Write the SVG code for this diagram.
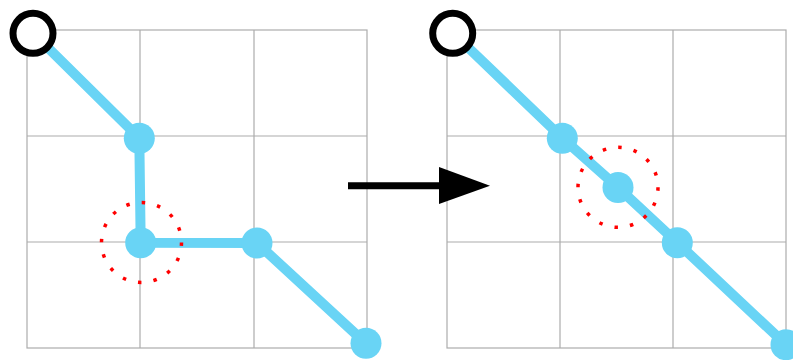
<svg xmlns="http://www.w3.org/2000/svg" width="793" height="360" viewBox="0 0 793 360">
<style>
.grid{fill:none;stroke:#acacac;stroke-width:1.2}
.path{fill:none;stroke:#69d4f5;stroke-width:10;stroke-linejoin:round}
.node{fill:#69d4f5}
.start{fill:#fff;stroke:#000;stroke-width:7}
.focus{fill:none;stroke:#f00;stroke-width:3.5;stroke-dasharray:3.5 12.2}
</style>
<rect width="793" height="360" fill="#fff"/>
<g id="grid-left" class="grid">
<rect x="27" y="30" width="340" height="318"/>
<line x1="140" y1="30" x2="140" y2="348"/>
<line x1="254" y1="30" x2="254" y2="348"/>
<line x1="27" y1="136" x2="367" y2="136"/>
<line x1="27" y1="242" x2="367" y2="242"/>
</g>
<g id="grid-right" class="grid">
<rect x="447" y="30" width="339" height="318"/>
<line x1="560" y1="30" x2="560" y2="348"/>
<line x1="673" y1="30" x2="673" y2="348"/>
<line x1="447" y1="136" x2="786" y2="136"/>
<line x1="447" y1="242" x2="786" y2="242"/>
</g>
<g id="connectors">
<polyline class="path" points="33,33 139.3,138 140.7,242.7 257,243 366,343.5"/>
<polyline class="path" points="453,33 562.3,138 618,187.5 677.3,242.7 786,344.7"/>
<line x1="348" y1="185.7" x2="442" y2="185.7" stroke="#000" stroke-width="7"/>
<polygon points="439,167 490,185.7 439,204" fill="#000"/>
</g>
<g id="left-start"><circle class="start" cx="33" cy="33.3" r="20"/></g>
<g id="left-n1"><circle class="node" cx="139.3" cy="138.3" r="15.5"/></g>
<g id="left-n2"><circle class="node" cx="140.7" cy="242.7" r="15.5"/></g>
<g id="left-n3"><circle class="node" cx="257" cy="243" r="15.5"/></g>
<g id="left-n4"><circle class="node" cx="366" cy="343.3" r="15.5"/></g>
<g id="left-focus"><circle class="focus" cx="141.5" cy="242.5" r="40"/></g>
<g id="right-start"><circle class="start" cx="452.7" cy="33.3" r="20"/></g>
<g id="right-n1"><circle class="node" cx="562.3" cy="138.3" r="15.5"/></g>
<g id="right-n2"><circle class="node" cx="618" cy="187.5" r="15.5"/></g>
<g id="right-n3"><circle class="node" cx="677.3" cy="242.7" r="15.5"/></g>
<g id="right-n4"><circle class="node" cx="786" cy="344.7" r="15.5"/></g>
<g id="right-focus"><circle class="focus" cx="618" cy="187.3" r="40"/></g>
</svg>
